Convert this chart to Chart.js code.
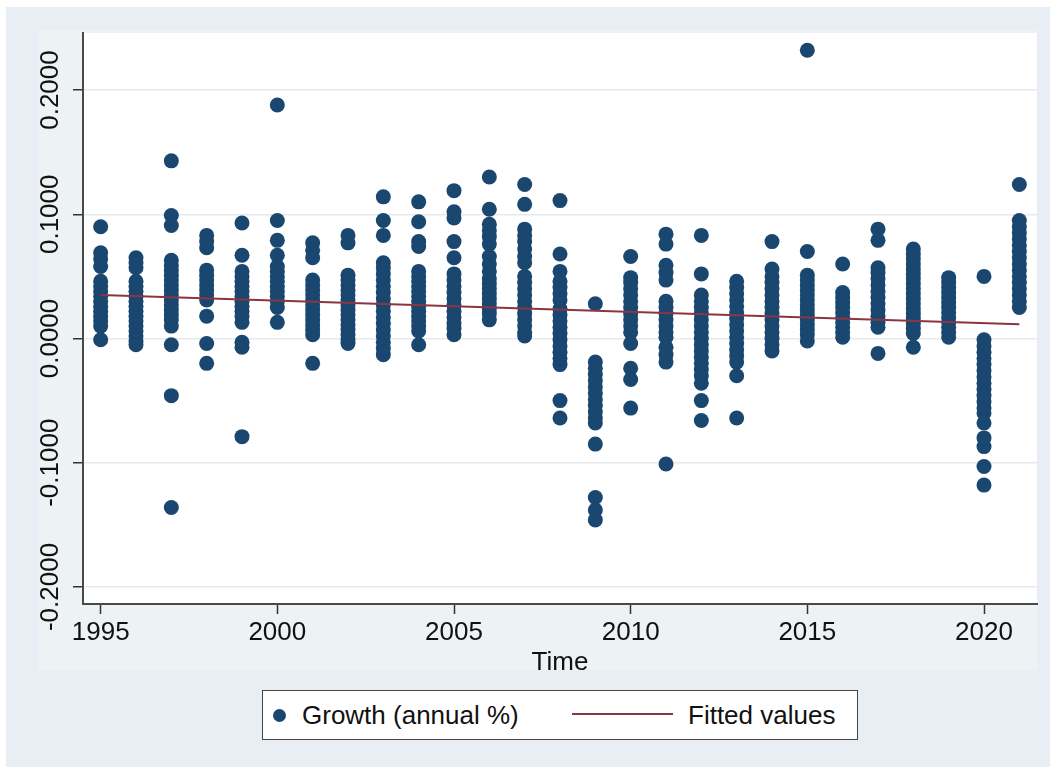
<!DOCTYPE html>
<html>
<head>
<meta charset="utf-8">
<script src="https://cdn.jsdelivr.net/npm/chart.js@4.4.1/dist/chart.umd.min.js"></script>
<style>
html,body{margin:0;padding:0;background:#fff;}
#wrap{position:relative;width:1054px;height:774px;overflow:hidden;background:#fff;}
#outer{position:absolute;left:6px;top:7px;width:1044px;height:760px;background:#e8eef3;}
#inner{position:absolute;left:38px;top:30px;width:999px;height:640px;background:#edf2f4;}
#c{position:absolute;left:0;top:0;}
#legend{position:absolute;left:262px;top:690px;width:594px;height:48px;background:#fff;border:1px solid #444;
  font-family:'Liberation Sans',Arial,sans-serif;font-size:26px;color:#111;}
#legend .dot{position:absolute;left:10px;top:18px;width:13px;height:13px;border-radius:50%;background:#1a476f;}
#legend .ln{position:absolute;left:309px;top:22px;width:101px;height:2px;background:#8c3542;}
#legend .t{position:absolute;top:0;line-height:48px;white-space:nowrap;}
</style>
</head>
<body>
<div id="wrap">
  <div id="outer"></div>
  <div id="inner"></div>
  <canvas id="c" width="1054" height="774"></canvas>
  <div id="legend">
    <div class="dot"></div><span class="t" style="left:39px">Growth (annual %)</span>
    <div class="ln"></div><span class="t" style="left:425px">Fitted values</span>
  </div>
</div>
<script>
// ---- data ----
const years = [1995,1996,1997,1998,1999,2000,2001,2002,2003,2004,2005,2006,2007,2008,2009,2010,2011,2012,2013,2014,2015,2016,2017,2018,2019,2020,2021];
const growthByYear = [
  [0.090,0.069,0.064,0.058,0.046,0.042,0.038,0.034,0.030,0.026,0.022,0.018,0.014,0.010,-0.001],            // 1995
  [0.065,0.061,0.057,0.046,0.042,0.038,0.034,0.030,0.026,0.022,0.018,0.014,0.010,0.006,0.002,-0.002,-0.005], // 1996
  [0.143,0.099,0.091,0.063,0.059,0.055,0.051,0.047,0.043,0.039,0.035,0.031,0.027,0.023,0.019,0.015,0.010,-0.005,-0.046,-0.136], // 1997
  [0.083,0.078,0.073,0.055,0.051,0.047,0.043,0.039,0.035,0.031,0.018,-0.004,-0.020],                        // 1998
  [0.093,0.067,0.054,0.050,0.046,0.042,0.038,0.034,0.030,0.026,0.022,0.018,0.013,-0.003,-0.007,-0.079],     // 1999
  [0.188,0.095,0.079,0.067,0.058,0.054,0.050,0.046,0.042,0.038,0.034,0.030,0.025,0.013],                    // 2000
  [0.077,0.071,0.065,0.047,0.043,0.039,0.035,0.031,0.027,0.023,0.019,0.015,0.011,0.007,0.003,-0.020],       // 2001
  [0.083,0.077,0.051,0.047,0.043,0.039,0.035,0.031,0.027,0.023,0.019,0.015,0.011,0.007,0.003,-0.001,-0.004], // 2002
  [0.114,0.095,0.083,0.061,0.057,0.052,0.047,0.042,0.037,0.032,0.027,0.022,0.017,0.012,0.007,0.002,-0.003,-0.008,-0.013], // 2003
  [0.110,0.094,0.078,0.074,0.054,0.050,0.046,0.042,0.038,0.034,0.030,0.026,0.022,0.018,0.014,0.010,0.006,-0.005], // 2004
  [0.119,0.102,0.097,0.078,0.065,0.052,0.047,0.042,0.037,0.032,0.027,0.022,0.017,0.012,0.008,0.003],        // 2005
  [0.130,0.104,0.092,0.087,0.082,0.076,0.066,0.060,0.054,0.048,0.044,0.040,0.036,0.032,0.028,0.024,0.020,0.015], // 2006
  [0.124,0.108,0.088,0.083,0.078,0.072,0.066,0.061,0.050,0.045,0.040,0.035,0.030,0.025,0.020,0.015,0.010,0.005,0.002], // 2007
  [0.111,0.068,0.054,0.046,0.041,0.036,0.031,0.024,0.019,0.014,0.009,0.004,-0.001,-0.006,-0.011,-0.016,-0.021,-0.050,-0.064], // 2008
  [0.028,-0.019,-0.024,-0.029,-0.034,-0.039,-0.044,-0.049,-0.054,-0.059,-0.064,-0.068,-0.085,-0.128,-0.138,-0.146], // 2009
  [0.066,0.049,0.045,0.040,0.035,0.030,0.025,0.020,0.015,0.010,0.005,-0.004,-0.024,-0.033,-0.056],          // 2010
  [0.084,0.076,0.059,0.053,0.047,0.030,0.025,0.020,0.015,0.010,0.005,0.001,-0.007,-0.013,-0.019,-0.101],    // 2011
  [0.083,0.052,0.035,0.030,0.025,0.020,0.015,0.010,0.005,0.000,-0.005,-0.010,-0.015,-0.020,-0.025,-0.030,-0.036,-0.050,-0.066], // 2012
  [0.046,0.041,0.036,0.031,0.026,0.021,0.016,0.011,0.006,0.001,-0.004,-0.009,-0.014,-0.019,-0.030,-0.064],  // 2013
  [0.078,0.056,0.050,0.045,0.040,0.035,0.030,0.025,0.020,0.015,0.010,0.005,0.000,-0.005,-0.010],            // 2014
  [0.232,0.070,0.051,0.047,0.043,0.039,0.035,0.031,0.027,0.023,0.019,0.015,0.011,0.007,0.003,-0.002],       // 2015
  [0.060,0.037,0.033,0.029,0.025,0.021,0.017,0.013,0.009,0.005,0.001],                                      // 2016
  [0.088,0.079,0.057,0.053,0.048,0.043,0.038,0.033,0.028,0.023,0.018,0.013,0.009,-0.012],                   // 2017
  [0.072,0.068,0.064,0.060,0.056,0.052,0.048,0.044,0.040,0.036,0.032,0.028,0.024,0.020,0.016,0.012,0.008,0.004,-0.007], // 2018
  [0.049,0.045,0.041,0.037,0.033,0.029,0.025,0.021,0.017,0.013,0.009,0.005,0.001],                          // 2019
  [0.050,-0.001,-0.006,-0.011,-0.016,-0.021,-0.026,-0.031,-0.036,-0.041,-0.046,-0.051,-0.056,-0.060,-0.068,-0.080,-0.087,-0.103,-0.118], // 2020
  [0.124,0.095,0.090,0.085,0.080,0.075,0.070,0.065,0.060,0.055,0.050,0.045,0.040,0.035,0.030,0.025]         // 2021
];
const fitYears = [1995, 2021];
const fitValues = [0.035, 0.0115];
const xTicks = [1995, 2000, 2005, 2010, 2015, 2020];
const yTicks = [-0.2, -0.1, 0, 0.1, 0.2];
const seriesNames = ['Growth (annual %)', 'Fitted values'];
const xTitle = 'Time';

// ---- build datasets ----
const scatterPoints = [];
years.forEach((yr, i) => growthByYear[i].forEach(v => scatterPoints.push({x: yr, y: v})));
const fitPoints = fitYears.map((yr, i) => ({x: yr, y: fitValues[i]}));

const FONT = {family: "'Liberation Sans', Arial, sans-serif", size: 26};

const plotBg = {
  id: 'plotBg',
  beforeDraw(chart) {
    const {ctx, chartArea: a} = chart;
    ctx.save();
    ctx.fillStyle = '#ffffff';
    ctx.fillRect(a.left, a.top, a.right - a.left, a.bottom - a.top);
    ctx.restore();
  }
};

new Chart(document.getElementById('c'), {
  type: 'scatter',
  data: {
    datasets: [
      {
        type: 'line', label: seriesNames[1], data: fitPoints, order: 0,
        borderColor: '#8c3542', borderWidth: 2, pointRadius: 0, fill: false, tension: 0
      },
      {
        label: seriesNames[0], data: scatterPoints, order: 1,
        backgroundColor: '#1a476f', borderColor: '#1a476f', borderWidth: 0,
        pointRadius: 7.5, pointHoverRadius: 7.5
      }
    ]
  },
  options: {
    responsive: false, animation: false, devicePixelRatio: 1,
    layout: {padding: {left: 0, right: 17, top: 33, bottom: 90}},
    plugins: {legend: {display: false}, tooltip: {enabled: false}, title: {display: false}},
    scales: {
      x: {
        type: 'linear', min: 1994.5, max: 2021.5,
        afterBuildTicks: s => { s.ticks = xTicks.map(v => ({value: v})); },
        afterFit: s => { s.height = 80; },
        ticks: {font: FONT, color: '#111', padding: 3, maxRotation: 0, callback: v => String(v)},
        grid: {drawOnChartArea: false, drawTicks: true, tickLength: 10, tickColor: '#333', tickWidth: 1.5},
        border: {display: true, color: '#4a4a4a', width: 2},
        title: {display: true, text: xTitle, font: FONT, color: '#111', padding: {top: 0, bottom: 6}}
      },
      y: {
        type: 'linear', min: -0.2137, max: 0.2459,
        afterBuildTicks: s => { s.ticks = yTicks.map(v => ({value: v})); },
        afterFit: s => { s.width = 83; },
        ticks: {font: FONT, color: '#111', padding: -22, minRotation: 90, maxRotation: 90, crossAlign: 'center',
                callback: v => v.toFixed(4)},
        grid: {color: '#e6eaeb', lineWidth: 1.5, drawTicks: true, tickLength: 10, tickColor: '#333', tickWidth: 1.5},
        border: {display: true, color: '#4a4a4a', width: 2}
      }
    }
  },
  plugins: [plotBg]
});
</script>
</body>
</html>
